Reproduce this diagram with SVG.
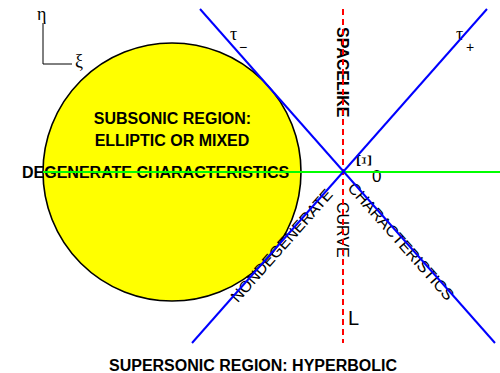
<svg xmlns="http://www.w3.org/2000/svg" width="500" height="373" viewBox="0 0 500 373">
<style>
.b{font-family:"Liberation Sans",Arial,sans-serif;font-weight:bold;font-size:16px;fill:#000}
.r{font-family:"Liberation Sans",Arial,sans-serif;font-size:16px;fill:#000}
.g{font-family:"Liberation Serif","Times New Roman",serif;font-size:18px;fill:#000}
.blue{stroke:#0000ff;stroke-width:2;fill:none}
</style>
<rect width="500" height="373" fill="#fff"/>
<g id="subsonic-region">
<circle cx="172" cy="172" r="129" fill="#ffff00" stroke="#000" stroke-width="1.6"/>
<text class="b" x="172.5" y="124" text-anchor="middle">SUBSONIC REGION:</text>
<text class="b" x="172" y="146" text-anchor="middle">ELLIPTIC OR MIXED</text>
</g>
<g id="axes">
<polyline points="43,23 43,64 72,64" fill="none" stroke="#000" stroke-width="1"/>
<text class="g" x="37" y="20">η</text>
<text class="g" x="75" y="67">ξ</text>
</g>
<g id="labels">
<text class="b" x="22" y="178">DEGENERATE CHARACTERISTICS</text>
<text class="b" transform="translate(337,27) rotate(90)">SPACELIKE</text>
<text class="r" transform="translate(337,202) rotate(90)">CURVE</text>
<text class="r" transform="translate(346.8,188.4) rotate(48.5)">CHARACTERISTICS</text>
<text class="r" transform="translate(237.8,303.3) rotate(-48.5)">NONDEGENERATE</text>
<text class="b" x="253" y="371" text-anchor="middle">SUPERSONIC REGION: HYPERBOLIC</text>
<text class="r" x="348" y="325" style="font-size:20px">L</text>
<text class="g" x="230" y="40">τ</text>
<text class="r" x="239" y="52" style="font-size:14px">−</text>
<text class="g" x="456" y="40">τ</text>
<text class="r" x="466" y="52" style="font-size:14px">+</text>
<text class="g" transform="translate(357,160.5) rotate(90)" text-anchor="middle" style="font-size:21px">Ξ</text>
<text class="r" x="372" y="182" style="font-size:17px">0</text>
</g>
<g id="connectors">
<line x1="343" y1="9" x2="343" y2="343" stroke="#ff0000" stroke-width="2" stroke-dasharray="6,4"/>
<line x1="43" y1="172" x2="500" y2="172" stroke="#00ff00" stroke-width="2"/>
<line class="blue" x1="200" y1="9" x2="495" y2="343"/>
<line class="blue" x1="487" y1="9" x2="192" y2="343"/>
</g>
</svg>
